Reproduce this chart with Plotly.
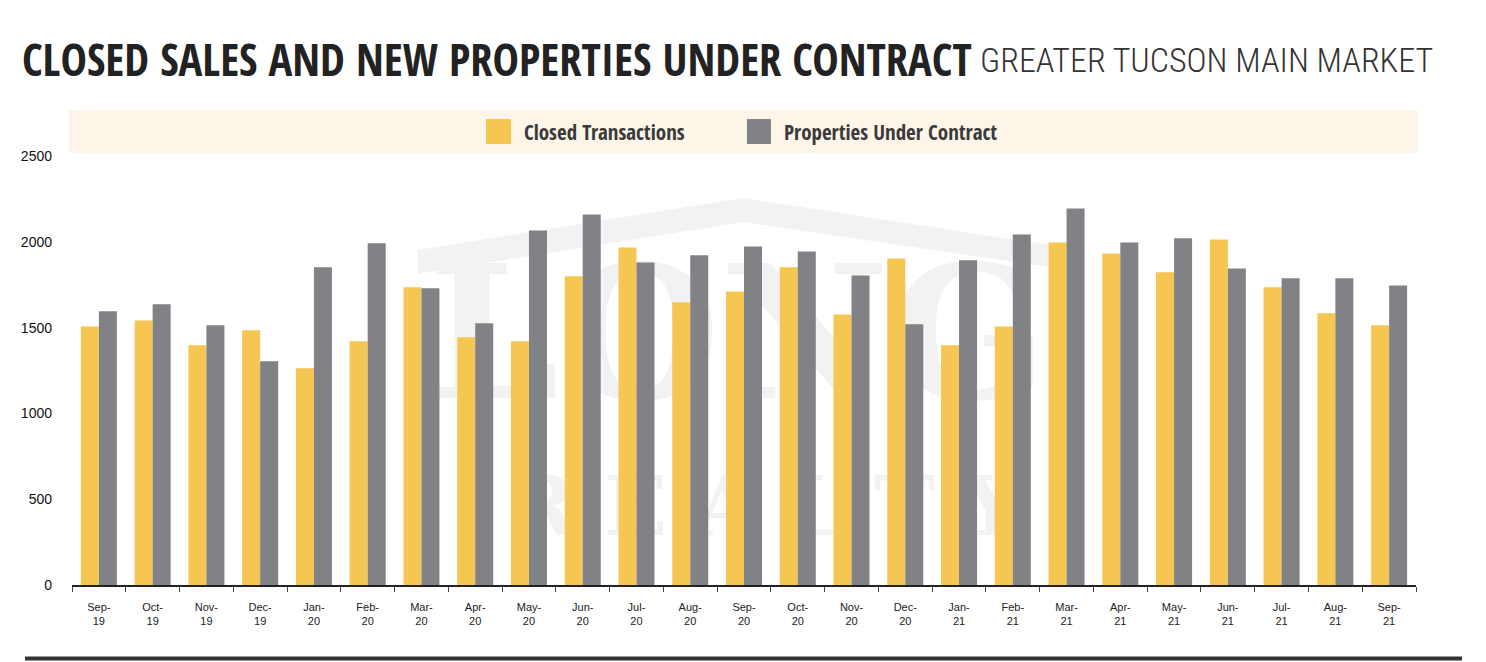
import plotly.graph_objects as go

months = ["Sep-<br>19", "Oct-<br>19", "Nov-<br>19", "Dec-<br>19", "Jan-<br>20", "Feb-<br>20",
          "Mar-<br>20", "Apr-<br>20", "May-<br>20", "Jun-<br>20", "Jul-<br>20", "Aug-<br>20",
          "Sep-<br>20", "Oct-<br>20", "Nov-<br>20", "Dec-<br>20", "Jan-<br>21", "Feb-<br>21",
          "Mar-<br>21", "Apr-<br>21", "May-<br>21", "Jun-<br>21", "Jul-<br>21", "Aug-<br>21",
          "Sep-<br>21"]
closed = [1507, 1542, 1397, 1484, 1263, 1420, 1735, 1444, 1420, 1799, 1967, 1647,
          1711, 1851, 1577, 1903, 1397, 1507, 1996, 1932, 1822, 2014, 1735, 1583, 1513]
under_contract = [1595, 1636, 1513, 1304, 1851, 1991, 1729, 1525, 2066, 2159, 1880, 1921,
                  1973, 1944, 1804, 1519, 1892, 2043, 2194, 1996, 2020, 1845, 1787, 1787, 1746]
y_ticks = [0, 500, 1000, 1500, 2000, 2500]
series_names = ["Closed Transactions", "Properties Under Contract"]
title_main = "CLOSED SALES AND NEW PROPERTIES UNDER CONTRACT"
title_sub = "GREATER TUCSON MAIN MARKET"

YELLOW = "#F5C752"
GRAY = "#818286"
COND = "Open Sans Condensed, Roboto Condensed, DejaVu Sans Condensed, sans-serif"
COND_LIGHT = "Roboto Condensed, Open Sans Condensed, DejaVu Sans Condensed, sans-serif"
SANS = "Liberation Sans, Arial, Helvetica, sans-serif"

OFF = 8  # page body margin
W, H = 1470, 654
L, R, T, B = 64, 62, 148, 76.5
PW, PH = W - L - R, H - T - B


def px(x):
    return (x - OFF - L) / PW


def py(y):
    return (H - B - (y - OFF)) / PH


fig = go.Figure()

# faint watermark on the base axes, beneath the bars
fig.add_trace(go.Scatter(
    x=[px(738), px(765)], y=[py(352), py(515)], mode="text",
    text=["LONG", "R E A L T Y"],
    textfont=dict(family="DejaVu Serif, Liberation Serif, serif", size=[185, 82], color="#F2F2F2", weight=700),
    hoverinfo="skip", showlegend=False, xaxis="x", yaxis="y"))

fig.add_trace(go.Bar(name=series_names[0], x=months, y=closed, marker=dict(color=YELLOW, line=dict(width=0)),
                     xaxis="x2", yaxis="y2", showlegend=False))
fig.add_trace(go.Bar(name=series_names[1], x=months, y=under_contract, marker=dict(color=GRAY, line=dict(width=0)),
                     xaxis="x2", yaxis="y2", showlegend=False))

shapes = [
    dict(type="path", xref="paper", yref="paper", layer="below", line=dict(width=0), fillcolor="#F2F2F2",
         path=f"M{px(418)},{py(250)} L{px(743)},{py(198)} L{px(1048)},{py(245)} L{px(1048)},{py(267)} "
              f"L{px(743)},{py(222)} L{px(418)},{py(274)} Z"),
    dict(type="rect", xref="paper", yref="paper", layer="below", line=dict(width=0), fillcolor="#FDF6E8",
         x0=px(69), x1=px(1418), y0=py(153), y1=py(110)),
    dict(type="rect", xref="paper", yref="paper", line=dict(width=0), fillcolor=YELLOW,
         x0=px(486), x1=px(511), y0=py(144), y1=py(119)),
    dict(type="rect", xref="paper", yref="paper", line=dict(width=0), fillcolor=GRAY,
         x0=px(747), x1=px(771), y0=py(144), y1=py(119)),
    dict(type="line", xref="paper", yref="paper", line=dict(width=4, color="#333333"),
         x0=px(25), x1=px(1462), y0=py(659), y1=py(659)),
]

annotations = [
    dict(text=title_main, xref="paper", yref="paper",
         x=px(20), y=py(58), xanchor="left", yanchor="middle", showarrow=False,
         font=dict(family=COND, size=44.5, color="#222222", weight=800)),
    dict(text=title_sub, xref="paper", yref="paper",
         x=px(978), y=py(60), xanchor="left", yanchor="middle", showarrow=False,
         font=dict(family=COND_LIGHT, size=34, color="#333333", weight=300)),
    dict(text=series_names[0], xref="paper", yref="paper", x=px(522), y=py(132),
         xanchor="left", yanchor="middle", showarrow=False,
         font=dict(family=COND, size=21, color="#3a3a3a", weight=700)),
    dict(text=series_names[1], xref="paper", yref="paper", x=px(782), y=py(132),
         xanchor="left", yanchor="middle", showarrow=False,
         font=dict(family=COND, size=21, color="#3a3a3a", weight=700)),
]

fig.update_layout(
    width=W, height=H,
    margin=dict(l=L, r=R, t=T, b=B),
    paper_bgcolor="white", plot_bgcolor="rgba(0,0,0,0)",
    barmode="group", bargap=0.33, bargroupgap=0,
    showlegend=False,
    shapes=shapes, annotations=annotations,
    xaxis=dict(visible=False, range=[0, 1], fixedrange=True),
    yaxis=dict(visible=False, range=[0, 1], fixedrange=True),
    xaxis2=dict(overlaying="x", side="bottom", showline=True, linecolor="#222222", linewidth=1.5,
                ticks="outside", tickson="boundaries", ticklen=5, tickcolor="#444444", tickwidth=1,
                showgrid=False, zeroline=False, ticklabelstandoff=11,
                tickfont=dict(family=SANS, size=11, color="#222222")),
    yaxis2=dict(overlaying="y", side="left", range=[0, 2500], tickvals=y_ticks,
                showline=False, showgrid=False, zeroline=False, ticks="",
                ticklabelstandoff=19,
                tickfont=dict(family=SANS, size=14, color="#111111")),
)

fig.write_html("out.html")
